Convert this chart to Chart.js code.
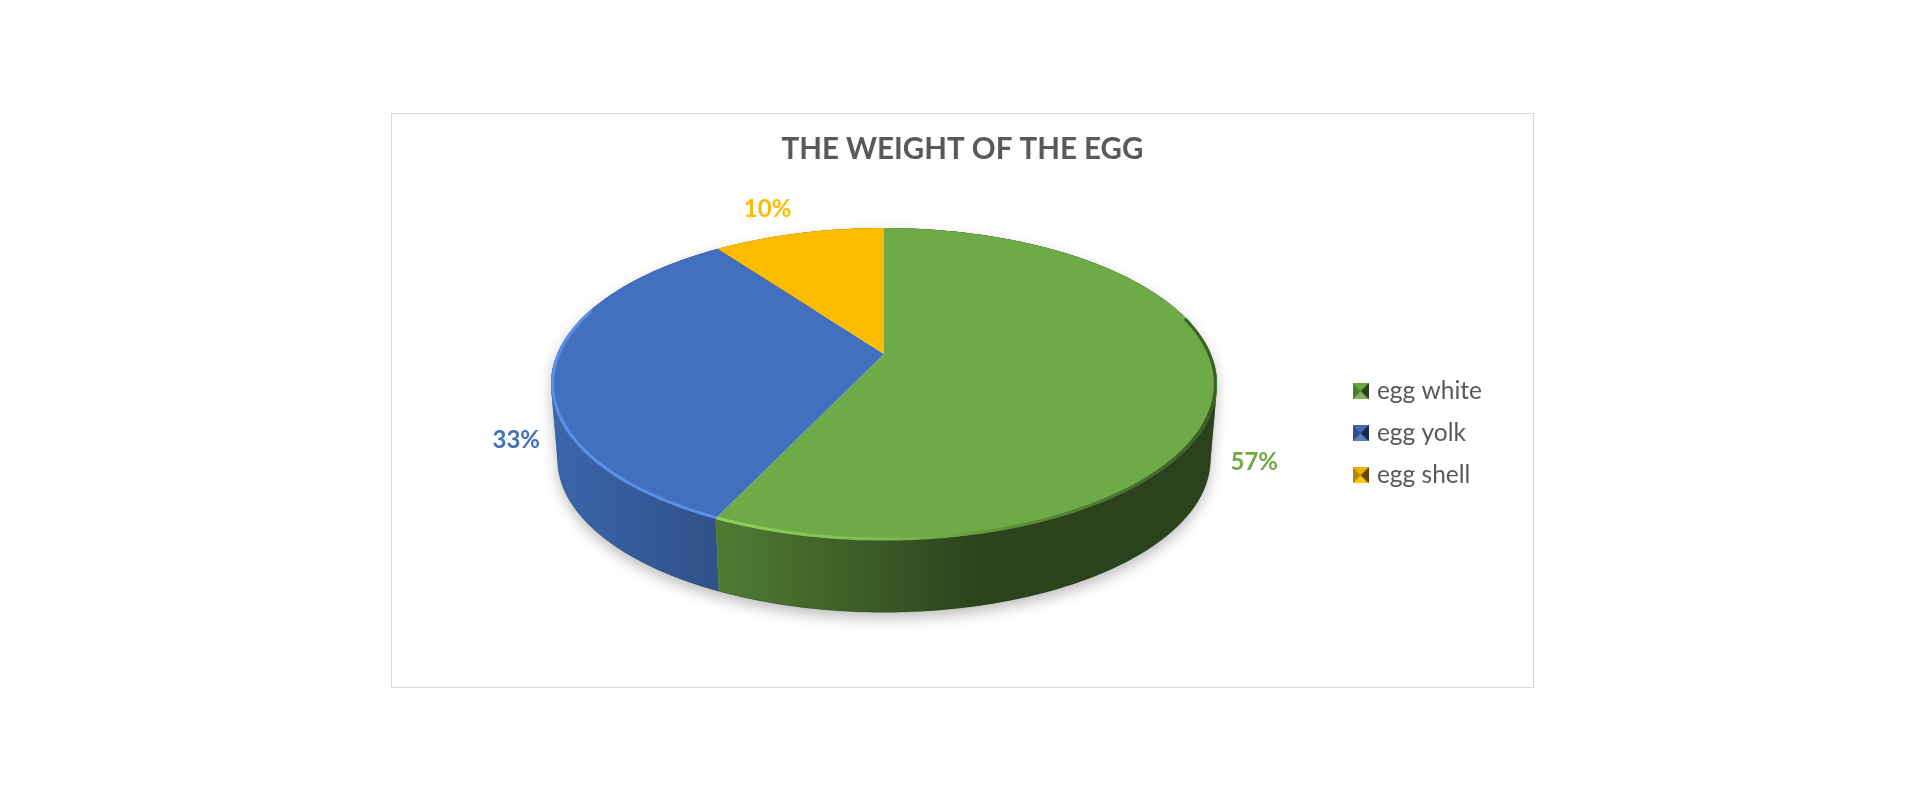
<!DOCTYPE html>
<html>
<head>
<meta charset="utf-8">
<title>The weight of the egg</title>
<script src="https://cdn.jsdelivr.net/npm/chart.js@4"></script>
<style>
  html, body { margin: 0; background: #fff; }
  #kartu { position: absolute; left: 391px; top: 113px; width: 1141px; height: 573px; border: 1px solid #d9d9d9; }
</style>
</head>
<body>
<div id="kartu"><canvas id="grafik"></canvas></div>
<script>
const judul = 'THE WEIGHT OF THE EGG';
const kategori = ['egg white', 'egg yolk', 'egg shell'];
const nilai = [57, 33, 10];
const warna = ['#6EAA47', '#4270BF', '#FBBC00'];

// perspective of the disc, in canvas pixels
const cx = 492, cy = 240, rx = 326.8, ry = 150.2, miring = 0.1923;
const cyBawah = 316, skalaBawah = 0.98;
// where each percent label sits relative to the disc edge
const geserLabel = [[44, -1], [-43, -4], [-31, -24]];

function titik(sudut, skala, y0) {
  const w = 1 - miring * Math.sin(sudut);
  return [cx + skala * rx * Math.cos(sudut) / w, y0 + skala * ry * Math.sin(sudut) / w];
}

function jalur(ctx, dari, ke, skala, y0, sambung) {
  const n = Math.max(2, Math.ceil(Math.abs(ke - dari) * 60));
  for (let i = 0; i <= n; i++) {
    const p = titik(dari + (ke - dari) * i / n, skala, y0);
    if (i === 0 && !sambung) ctx.moveTo(p[0], p[1]);
    else ctx.lineTo(p[0], p[1]);
  }
}

// wall between the top rim and the foot, as thin strips so the sides stay straight
function pitaDinding(ctx, dari, ke) {
  const n = Math.ceil((ke - dari) * 60);
  ctx.beginPath();
  for (let i = 0; i < n; i++) {
    const a = dari + (ke - dari) * i / n;
    const b = dari + (ke - dari) * (i + 1) / n;
    const p = [titik(a, 1, cy), titik(b, 1, cy), titik(b, skalaBawah, cyBawah), titik(a, skalaBawah, cyBawah)];
    // keep every strip wound the same way
    const luas = (p[1][0] - p[0][0]) * (p[3][1] - p[0][1]) - (p[1][1] - p[0][1]) * (p[3][0] - p[0][0]);
    if (luas < 0) p.reverse();
    ctx.moveTo(p[0][0], p[0][1]);
    for (let j = 1; j < 4; j++) ctx.lineTo(p[j][0], p[j][1]);
    ctx.closePath();
  }
}

function gambarDinding(ctx, arc, warnaIsi) {
  pitaDinding(ctx, arc.startAngle, arc.endAngle);
  ctx.fillStyle = warnaIsi;
  ctx.fill();
  const g = ctx.createLinearGradient(cx - rx, 0, cx + rx, 0);
  g.addColorStop(0, 'rgba(0,0,0,0.10)');
  g.addColorStop(0.25, 'rgba(0,0,0,0.28)');
  g.addColorStop(0.64, 'rgba(0,0,0,0.60)');
  g.addColorStop(1, 'rgba(0,0,0,0.61)');
  ctx.fillStyle = g;
  ctx.fill();
}

const pie3d = {
  id: 'pie3d',
  beforeDatasetsDraw(chart) {
    const ctx = chart.ctx;
    const arcs = chart.getDatasetMeta(0).data;
    const putaran = Math.PI * 2;

    ctx.save();
    // soft shadow under the disc
    ctx.save();
    ctx.shadowColor = 'rgba(0,0,0,0.26)';
    ctx.shadowBlur = 14;
    ctx.shadowOffsetY = 6;
    ctx.fillStyle = '#999';
    pitaDinding(ctx, -Math.PI / 2, -Math.PI / 2 + putaran);
    ctx.fill();
    ctx.restore();

    // side walls, back slices first
    for (let i = arcs.length - 1; i >= 0; i--) {
      gambarDinding(ctx, arcs[i], warna[i]);
    }

    // dark line at the foot of the wall
    ctx.beginPath();
    jalur(ctx, 0.2, 3, skalaBawah, cyBawah, false);
    ctx.strokeStyle = 'rgba(0,0,0,0.18)';
    ctx.lineWidth = 1;
    ctx.stroke();

    // top faces
    arcs.forEach((arc, i) => {
      ctx.beginPath();
      ctx.moveTo(cx, cy);
      jalur(ctx, arc.startAngle, arc.endAngle, 1, cy, true);
      ctx.closePath();
      ctx.fillStyle = warna[i];
      ctx.fill();
    });

    // bevel along the front rim
    const rimHijau = ctx.createLinearGradient(cx - 170, 0, cx + rx, 0);
    rimHijau.addColorStop(0, '#93d05c');
    rimHijau.addColorStop(0.35, '#7cbb4f');
    rimHijau.addColorStop(0.6, '#5c8e3b');
    rimHijau.addColorStop(1, '#3b5c27');
    ctx.save();
    ctx.beginPath();
    ctx.rect(0, 0, chart.width, chart.height);
    ctx.clip();
    ctx.filter = 'blur(0.7px)';
    ctx.lineWidth = 3;
    ctx.beginPath();
    jalur(ctx, -0.25, arcs[0].endAngle, 0.995, cy, false);
    ctx.strokeStyle = rimHijau;
    ctx.stroke();
    ctx.beginPath();
    jalur(ctx, arcs[1].startAngle, 3.45, 0.995, cy, false);
    ctx.strokeStyle = '#5b8fe8';
    ctx.stroke();
    ctx.restore();

    // percent labels
    ctx.font = 'bold 24px Lato';
    ctx.textAlign = 'center';
    ctx.textBaseline = 'middle';
    arcs.forEach((arc, i) => {
      const tengah = (arc.startAngle + arc.endAngle) / 2;
      const depan = Math.sin(tengah) > 0;
      const p = depan ? titik(tengah, skalaBawah, cyBawah) : titik(tengah, 1, cy);
      ctx.fillStyle = warna[i];
      ctx.fillText(nilai[i] + '%', p[0] + geserLabel[i][0], p[1] + geserLabel[i][1]);
    });
    ctx.restore();
    return false;
  }
};

// small bevelled legend marker
function buatKotak(warnaIsi) {
  const c = document.createElement('canvas');
  c.width = 16;
  c.height = 16;
  const k = c.getContext('2d');
  k.fillStyle = warnaIsi;
  k.fillRect(0, 0, 16, 16);
  const sisi = [
    [[0, 0], [16, 0], 'rgba(0,0,0,0.04)'],
    [[16, 0], [16, 16], 'rgba(0,0,0,0.62)'],
    [[16, 16], [0, 16], 'rgba(255,255,255,0.12)'],
    [[0, 16], [0, 0], 'rgba(0,0,0,0.28)']
  ];
  sisi.forEach(s => {
    k.beginPath();
    k.moveTo(8, 8);
    k.lineTo(s[0][0], s[0][1]);
    k.lineTo(s[1][0], s[1][1]);
    k.closePath();
    k.fillStyle = s[2];
    k.fill();
  });
  return c;
}

const ctx = document.getElementById('grafik').getContext('2d');

new Chart(ctx, {
  type: 'pie',
  data: {
    labels: kategori,
    datasets: [{ data: nilai, backgroundColor: warna, borderWidth: 0 }]
  },
  plugins: [pie3d],
  options: {
    responsive: true,
    maintainAspectRatio: false,
    animation: false,
    layout: { padding: { left: 41, right: 41 } },
    plugins: {
      tooltip: { enabled: false },
      title: {
        display: true,
        text: judul,
        color: '#595959',
        font: { family: 'Lato', size: 29.5, weight: 'bold' },
        padding: { top: 18, bottom: 12 }
      },
      legend: {
        position: 'right',
        fullSize: false,
        labels: {
          color: '#595959',
          font: { family: 'Lato', size: 24.5 },
          padding: 17.5,
          boxWidth: 8,
          usePointStyle: true,
          generateLabels: () => kategori.map((nama, i) => ({
            text: nama,
            pointStyle: buatKotak(warna[i]),
            fontColor: '#595959',
            lineWidth: 0,
            hidden: false,
            index: i
          }))
        }
      }
    }
  }
});
</script>
</body>
</html>
